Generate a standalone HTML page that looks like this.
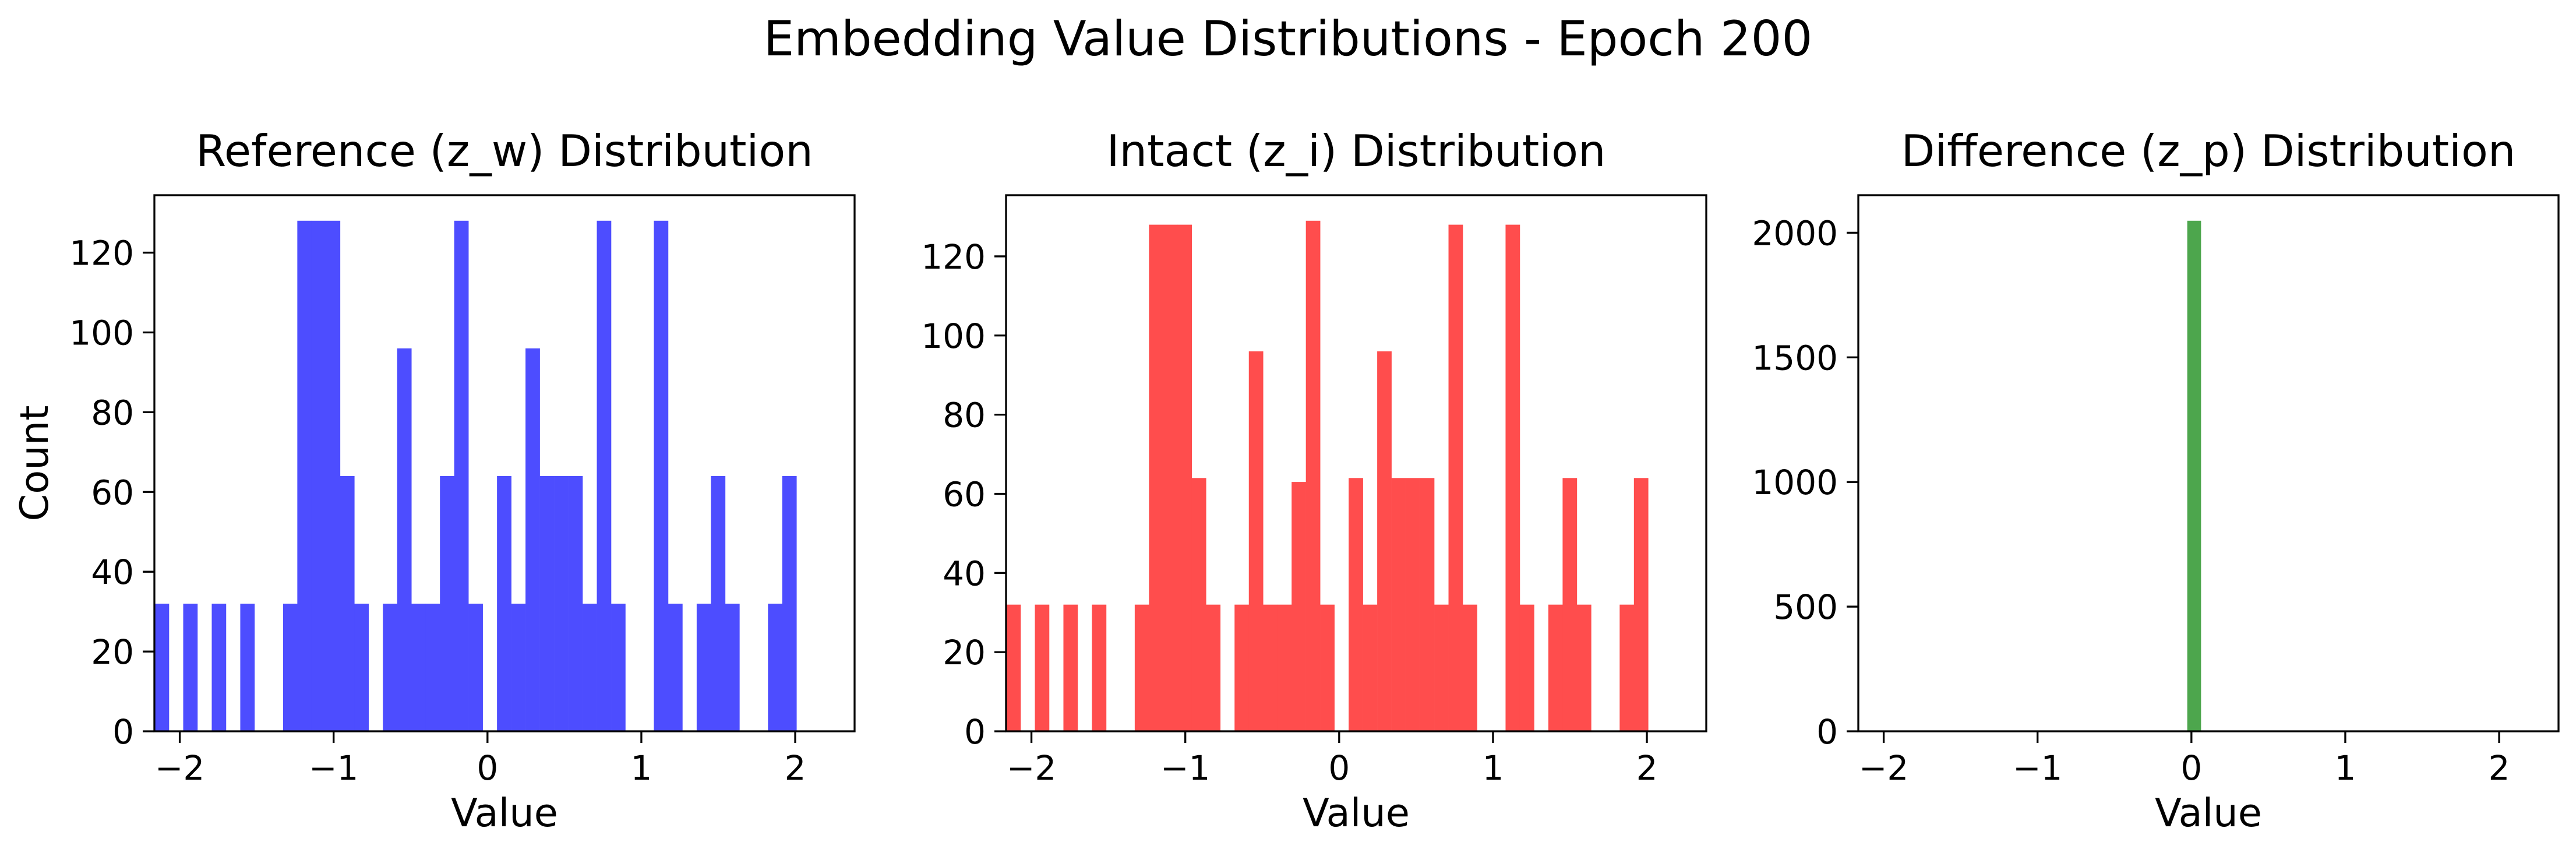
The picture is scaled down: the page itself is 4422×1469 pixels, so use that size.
<!DOCTYPE html>
<html><head><meta charset="utf-8">
<style>
html,body{margin:0;padding:0;background:#fff;}
svg text{font-family:"DejaVu Sans","Liberation Sans",sans-serif;fill:#000;}
</style></head>
<body>
<svg id="chart" width="4422" height="1464" viewBox="0 0 4422 1464" xmlns="http://www.w3.org/2000/svg">
<rect width="4422" height="1464" fill="#fff"/>
<text x="2211" y="95" font-size="83" text-anchor="middle">Embedding Value Distributions - Epoch 200</text>
<text transform="translate(82,795) rotate(-90)" font-size="67" text-anchor="middle">Count</text>
</svg>
<script>
const refCounts = [32,0,32,0,32,0,32,0,0,32,128,128,128,64,32,0,32,96,32,32,64,128,32,0,64,32,96,64,64,64,32,128,32,0,0,128,32,0,32,64,32,0,0,32,64];
const intCounts = [32,0,32,0,32,0,32,0,0,32,128,128,128,64,32,0,32,96,32,32,63,129,32,0,64,32,96,64,64,64,32,128,32,0,0,128,32,0,32,64,32,0,0,32,64];
const diffCounts = [2048];
const xTicks = [-2,-1,0,1,2];
const xTickLabels = ["\u22122","\u22121","0","1","2"];
const yTicksCount = [0,20,40,60,80,100,120];
const yTicksDiff = [0,500,1000,1500,2000];
const histBinStart = -2.163;
const histBinWidth = 0.0927;
const diffBinStart = -0.027;
const diffBinWidth = 0.0885;
const panelTitles = ["Reference (z_w) Distribution","Intact (z_i) Distribution","Difference (z_p) Distribution"];

const NS = "http://www.w3.org/2000/svg";
const svg = document.getElementById('chart');
function mk(tag, attrs, parent){
  const e = document.createElementNS(NS, tag);
  for (const k in attrs) e.setAttribute(k, attrs[k]);
  (parent||svg).appendChild(e);
  return e;
}
const X0 = -2.165, X1 = 2.386, TOP = 335, BOT = 1255, W = 1202;
function panel(left, counts, binStart, binWidth, yTicks, color, title, key){
  const g = mk('g', {});
  
  
  const maxC = Math.max(...counts);
  const yMax = maxC * 1.05;
  const xs = v => left + (v - X0) / (X1 - X0) * W;
  const ys = v => BOT - v / yMax * (BOT - TOP);
  counts.forEach((c, i) => {
    if (c <= 0) return;
    const a = xs(binStart + i * binWidth), b = xs(binStart + (i + 1) * binWidth);
    const r = mk('rect', {x: Math.max(a, left), y: ys(c), width: b - Math.max(a, left) + 0.3, height: BOT - ys(c), fill: color}, g);
    
    
  });
  const fr = mk('rect', {x: left, y: TOP, width: W, height: BOT - TOP, fill: 'none', stroke: '#000', 'stroke-width': 3.3}, g);
  
  
  xTicks.forEach((t, i) => {
    const x = xs(t);
    mk('line', {x1: x, x2: x, y1: BOT, y2: BOT + 20, stroke: '#000', 'stroke-width': 3.3}, g);
    const tx = mk('text', {x: x, y: BOT + 83, 'font-size': 58, 'text-anchor': 'middle'}, g);
    tx.textContent = xTickLabels[i];
    
    
  });
  yTicks.forEach(t => {
    const y = ys(t);
    mk('line', {x1: left - 20, x2: left, y1: y, y2: y, stroke: '#000', 'stroke-width': 3.3}, g);
    const tx = mk('text', {x: left - 35, y: y + 21, 'font-size': 58, 'text-anchor': 'end'}, g);
    tx.textContent = String(t);
    
    
  });
  const xl = mk('text', {x: left + W / 2, y: 1418, 'font-size': 67, 'text-anchor': 'middle'}, g);
  xl.textContent = 'Value';
  
  
  const tt = mk('text', {x: left + W / 2, y: 285, 'font-size': 75, 'text-anchor': 'middle'}, g);
  tt.textContent = title;
  
  
}
panel(265, refCounts, histBinStart, histBinWidth, yTicksCount, '#4d4dff', panelTitles[0], 'reference');
panel(1727, intCounts, histBinStart, histBinWidth, yTicksCount, '#ff4d4d', panelTitles[1], 'intact');
panel(3190, diffCounts, diffBinStart, diffBinWidth, yTicksDiff, '#4da64d', panelTitles[2], 'difference');
</script>
</body></html>
